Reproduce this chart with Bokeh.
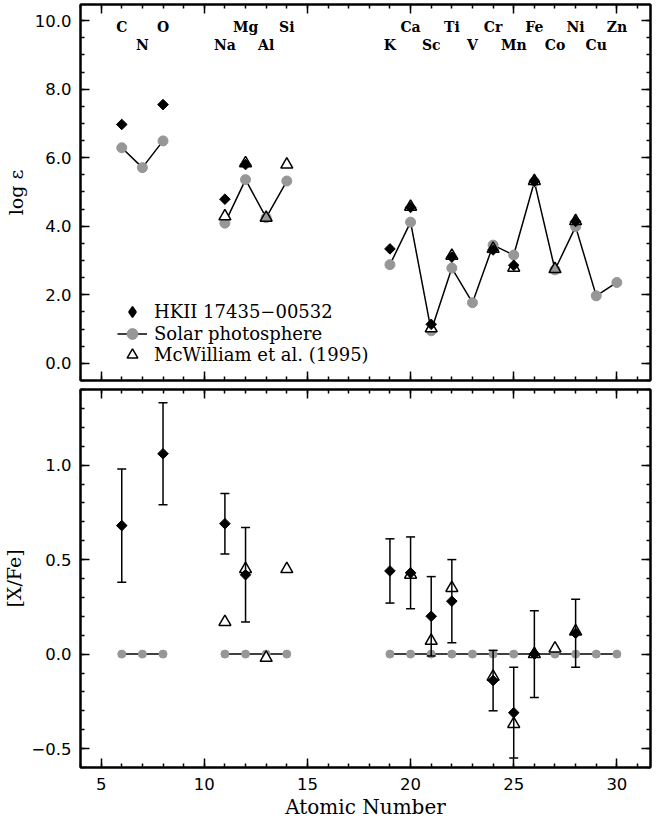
import numpy as np
from bokeh.plotting import figure
from bokeh.models import (ColumnDataSource, LinearAxis, SingleIntervalTicker, Range1d,
                          Whisker, TeeHead, Legend, LegendItem, CustomJSTickFormatter,
                          PrintfTickFormatter, CustomLabelingPolicy)
from bokeh.layouts import column
from bokeh.embed import file_html
from bokeh.resources import INLINE
from bokeh.core.properties import value

# ---------------- data ----------------
elements = ["C", "N", "O", "Na", "Mg", "Al", "Si", "K", "Ca", "Sc", "Ti", "V",
            "Cr", "Mn", "Fe", "Co", "Ni", "Cu", "Zn"]
element_z = [6, 7, 8, 11, 12, 13, 14, 19, 20, 21, 22, 23, 24, 25, 26, 27, 28, 29, 30]

# scaled solar photosphere, log eps
solar_loge = [6.29, 5.71, 6.49, 4.09, 5.36, 4.25, 5.32, 2.88, 4.12, 0.95, 2.78, 1.77,
              3.45, 3.16, 5.30, 2.73, 3.99, 1.97, 2.36]
solar_xfe = [0.0] * len(element_z)

# HKII 17435-00532
star_z = [6, 8, 11, 12, 19, 20, 21, 22, 24, 25, 26, 28]
star_loge = [6.97, 7.55, 4.79, 5.80, 3.34, 4.55, 1.14, 3.10, 3.31, 2.86, 5.31, 4.14]
star_xfe = [0.68, 1.06, 0.69, 0.42, 0.44, 0.43, 0.20, 0.28, -0.14, -0.31, 0.00, 0.11]
star_err = [0.30, 0.27, 0.16, 0.25, 0.17, 0.19, 0.21, 0.22, 0.16, 0.24, 0.23, 0.18]

# McWilliam et al. (1995)
mcw_el = ["Na", "Mg", "Al", "Si", "Ca", "Sc", "Ti", "Cr", "Mn", "Fe", "Co", "Ni"]
mcw_z = [11, 12, 13, 14, 20, 21, 22, 24, 25, 26, 27, 28]
mcw_loge = [4.29, 5.84, 4.25, 5.80, 4.57, 1.02, 3.14, 3.34, 2.79, 5.32, 2.75, 4.15]
mcw_xfe = [0.17, 0.45, -0.02, 0.45, 0.42, 0.07, 0.35, -0.12, -0.37, 0.00, 0.03, 0.12]

legend_labels = ["HKII 17435\u221200532", "Solar photosphere", "McWilliam et al. (1995)"]

# ---------------- styling ----------------
TICK_FONT = "DejaVu Sans"
SERIF = "DejaVu Serif"
GRAY = "#979797"
FRAME_W = 570
BORDER_L = 78

NO_LABELS = CustomLabelingPolicy(code="""
for (const i of indices) { indices.unset(i) }
return indices
""")


def with_gaps(zs, vs):
    xs, ys = [], []
    for i, (z, v) in enumerate(zip(zs, vs)):
        if i > 0 and z - zs[i - 1] > 1:
            xs.append(np.nan)
            ys.append(np.nan)
        xs.append(z)
        ys.append(v)
    return xs, ys


def make_fig(y0, y1, frame_h, b_top, b_bottom):
    p = figure(frame_width=FRAME_W, frame_height=frame_h,
               x_range=Range1d(4, 4 + FRAME_W / 20.63), y_range=Range1d(y0, y1),
               output_backend="svg", toolbar_location=None,
               min_border_left=BORDER_L, min_border_right=0,
               min_border_top=b_top, min_border_bottom=b_bottom)
    p.grid.visible = False
    p.outline_line_color = "black"
    p.outline_line_width = 2
    p.background_fill_color = "white"
    p.border_fill_color = "white"
    return p


def style_axis(ax, labels):
    ax.axis_line_width = 2
    ax.axis_line_color = "black"
    ax.major_tick_in = 9
    ax.major_tick_out = 0
    ax.minor_tick_in = 4
    ax.minor_tick_out = 0
    ax.major_tick_line_width = 1.5
    ax.minor_tick_line_width = 1.5
    ax.major_tick_line_color = "black"
    ax.minor_tick_line_color = "black"
    if labels:
        ax.major_label_text_font = TICK_FONT
        ax.major_label_text_font_size = "16.5px"
        ax.major_label_text_color = "black"
        ax.axis_label_text_font = SERIF
        ax.axis_label_text_font_size = "19px"
        ax.axis_label_text_font_style = "normal"
        ax.axis_label_text_color = "black"
    else:
        ax.major_label_policy = NO_LABELS
        ax.major_label_text_font_size = "1px"
        ax.major_label_standoff = 0
        ax.axis_label = None


xt = SingleIntervalTicker(interval=5, num_minor_ticks=5)

# ================= top panel =================
p1 = make_fig(-0.5, 10.47, 376, 4, 4)
yt1 = SingleIntervalTicker(interval=2, num_minor_ticks=4)

p1.xaxis.ticker = xt
style_axis(p1.xaxis[0], False)
p1.yaxis.ticker = yt1
p1.yaxis.formatter = PrintfTickFormatter(format="%.1f")
p1.yaxis.axis_label = "log ε"
style_axis(p1.yaxis[0], True)
p1.yaxis.major_label_standoff = 9
p1.yaxis.axis_label_standoff = 5

ax_top1 = LinearAxis(ticker=xt)
style_axis(ax_top1, False)
p1.add_layout(ax_top1, "above")
ax_right1 = LinearAxis(ticker=yt1)
style_axis(ax_right1, False)
p1.add_layout(ax_right1, "right")

sx, sy = with_gaps(element_z, solar_loge)
sol_line1 = p1.line(sx, sy, line_color="black", line_width=1.5)
sol_pts1 = p1.scatter(element_z, solar_loge, marker="circle", size=10,
                      fill_color=GRAY, line_color=GRAY)

mcw_fill = [GRAY if e in ("Al", "Co") else "white" for e in mcw_el]
mcw_src1 = ColumnDataSource(dict(x=mcw_z, y=mcw_loge, fill=mcw_fill))
mcw_pts1 = p1.scatter("x", "y", source=mcw_src1, marker="triangle", size=12,
                      fill_color="fill", line_color="black", line_width=1.5)

star_src1 = ColumnDataSource(dict(x=star_z, y=star_loge))
p1.scatter("x", "y", source=star_src1, marker="square", angle=np.pi / 4, size=7.5,
           fill_color="black", line_color="black", line_width=1)
star_proxy = p1.scatter("x", "y", source=star_src1, marker="diamond", size=10,
                        fill_color="black", line_color="black", line_width=1.5,
                        visible=False)

lab_src = ColumnDataSource(dict(x=element_z,
                                y=[9.80 if z % 2 == 0 else 9.30 for z in element_z],
                                text=elements))
p1.text(x="x", y="y", text="text", source=lab_src, text_align="center",
        text_baseline="middle", text_font=value(SERIF), text_font_size="14px",
        text_font_style="bold", text_color="black")

# one legend per entry so the rows can be packed closely with large glyphs
legend_rows = [([star_proxy], 55), ([sol_line1, sol_pts1], 33.5), ([mcw_pts1], 12)]
for label, (rends, yoff) in zip(legend_labels, legend_rows):
    lg = Legend(items=[LegendItem(label=label, renderers=rends)],
                location=(37, yoff), glyph_width=30, glyph_height=27, label_height=20,
                spacing=0, label_standoff=7, padding=0, margin=0,
                border_line_color=None, background_fill_alpha=0,
                label_text_font=SERIF, label_text_font_size="18px",
                label_text_color="black")
    p1.add_layout(lg)

# ================= bottom panel =================
p2 = make_fig(-0.6, 1.4, 378, 5, 40)
yt2 = SingleIntervalTicker(interval=0.5, num_minor_ticks=5)

p2.xaxis.ticker = xt
p2.xaxis.axis_label = "Atomic Number"
style_axis(p2.xaxis[0], True)
p2.xaxis.axis_label_text_font_size = "20px"
p2.xaxis.major_label_standoff = 10
p2.xaxis.axis_label_standoff = 2

p2.yaxis.ticker = yt2
p2.yaxis.formatter = CustomJSTickFormatter(
    code="return (tick < -1e-9 ? '\\u2212' : '') + Math.abs(tick).toFixed(1);")
p2.yaxis.axis_label = "[X/Fe]"
style_axis(p2.yaxis[0], True)
p2.yaxis.major_label_standoff = 9
p2.yaxis.axis_label_standoff = 3

ax_top2 = LinearAxis(ticker=xt)
style_axis(ax_top2, False)
p2.add_layout(ax_top2, "above")
ax_right2 = LinearAxis(ticker=yt2)
style_axis(ax_right2, False)
p2.add_layout(ax_right2, "right")

sx2, sy2 = with_gaps(element_z, solar_xfe)
p2.line(sx2, sy2, line_color="black", line_width=1.5)
p2.scatter(element_z, solar_xfe, marker="circle", size=8, fill_color=GRAY, line_color=GRAY)

p2.scatter(mcw_z, mcw_xfe, marker="triangle", size=12, fill_color="white",
           line_color="black", line_width=1.5)

err_src = ColumnDataSource(dict(
    x=star_z,
    upper=[v + e for v, e in zip(star_xfe, star_err)],
    lower=[v - e for v, e in zip(star_xfe, star_err)]))
wh = Whisker(base="x", upper="upper", lower="lower", source=err_src, dimension="height",
             line_width=1.5, line_color="black",
             upper_head=TeeHead(size=9, line_width=1.5, line_color="black"),
             lower_head=TeeHead(size=9, line_width=1.5, line_color="black"))
wh.level = "annotation"
p2.add_layout(wh)

p2.scatter(star_z, star_xfe, marker="square", angle=np.pi / 4, size=7.5,
           fill_color="black", line_color="black", line_width=1)

layout = column(p1, p2)
open("out.html", "w").write(file_html(layout, INLINE))
